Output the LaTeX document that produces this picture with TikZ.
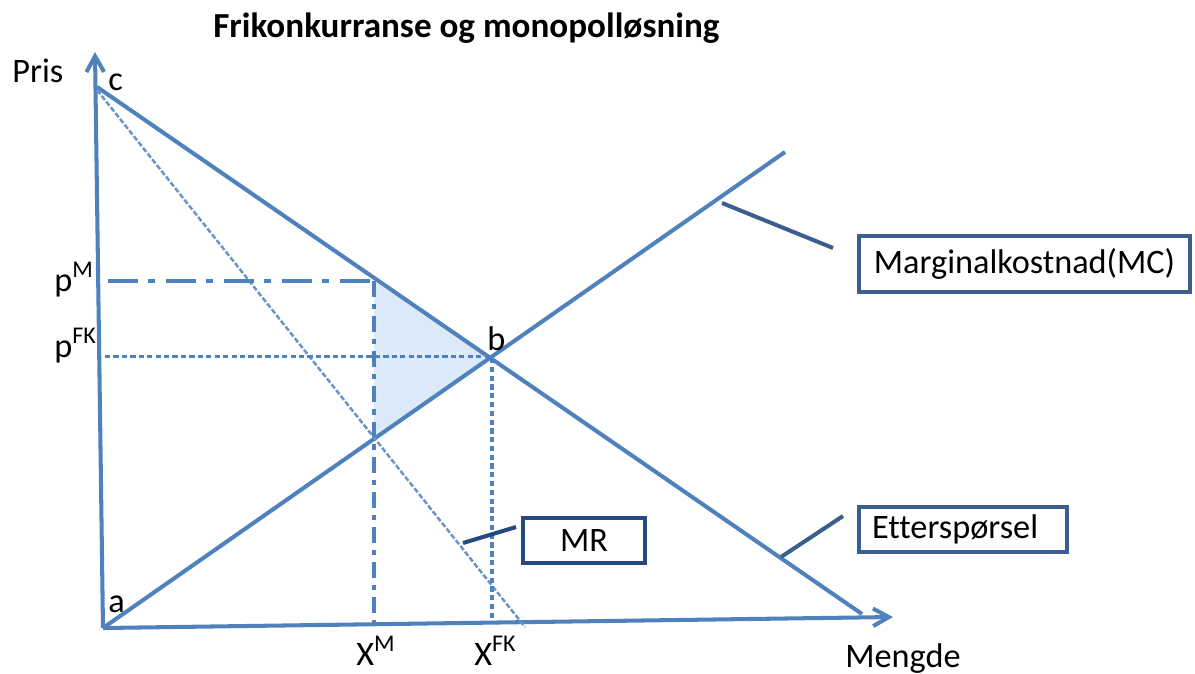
\documentclass[tikz,border=0pt]{standalone}
\usepackage{fontspec}
\setmainfont{Carlito}[Ligatures=NoCommon]
\usetikzlibrary{arrows.meta}
\definecolor{linjeblaa}{HTML}{4F81BD}
\definecolor{mork}{HTML}{3B5E8E}
\definecolor{navy}{HTML}{254A80}
\definecolor{skygge}{HTML}{DCE9F8}
\begin{document}
\begin{tikzpicture}[x=0.02cm,y=-0.02cm,
    kurve/.style={linjeblaa,line width=2.3pt},
    akse/.style={kurve,-{Straight Barb[length=9pt,width=10pt]}},
    merke/.style={font=\fontsize{19.5}{22}\selectfont,inner sep=0pt},
    boks/.style={draw=mork,line width=2.3pt,fill=white,
      font=\fontsize{19.5}{22}\selectfont,inner sep=0pt},
    pil/.style={mork,line width=2.3pt}]
    \useasboundingbox (0,0) rectangle (1195,673);

    % Points on the axes and curves
    \coordinate (a) at (103,628);
    \coordinate (ytopp) at (95,52);
    \coordinate (xslutt) at (893,617);
    \coordinate (c) at (97,87);
    \coordinate (dslutt) at (862,614);
    \coordinate (mcslutt) at (785,152);
    \coordinate (mrstart) at (97,90);
    \coordinate (mrslutt) at (525,627);
    \coordinate (b) at (492,358);
    \coordinate (pm) at (108,281);
    \coordinate (pmx) at (374,281);
    \coordinate (xm) at (374,622);
    \coordinate (mcxm) at (374,440);
    \coordinate (pfk) at (105,356);
    \coordinate (pfkx) at (492,356);
    \coordinate (xfk) at (492,620);

    % Shade the welfare loss
    \fill[skygge] (pmx) -- (b) -- (mcxm) -- cycle;

    % Draw the axes
    \draw[akse] (a) -- (ytopp);
    \draw[akse] (a) -- (xslutt);

    % Draw the curves
    \draw[kurve] (c) -- (dslutt);
    \draw[kurve] (a) -- (mcslutt);
    \draw[linjeblaa!85,line width=1.4pt,dash pattern=on 3pt off 1.2pt] (mrstart) -- (mrslutt);

    % Draw the price and quantity lines
    \draw[linjeblaa,line width=2.8pt,dash pattern=on 17pt off 6pt on 4pt off 6pt] (pm) -- (pmx);
    \draw[linjeblaa,line width=2.2pt,dash pattern=on 9pt off 4pt on 3pt off 4pt] (pmx) -- (xm);
    \draw[linjeblaa,line width=1.7pt,dash pattern=on 3pt off 1.8pt] (pfk) -- (pfkx);
    \draw[linjeblaa,line width=2.3pt,dash pattern=on 3pt off 2pt] (b) -- (xfk);

    % Label the axes and points
    \node[merke,anchor=base west] (pris) at (12,82) {Pris};
    \node[merke,anchor=base west] (mengde) at (845,667) {Mengde};
    \node[merke,anchor=base west] (cnavn) at (108,90) {c};
    \node[merke,anchor=base west] (anavn) at (108,612) {a};
    \node[merke,anchor=base west] (bnavn) at (487,350) {b};
    \node[merke,anchor=base west] (pmnavn) at (54,291) {p\textsuperscript{M}};
    \node[merke,anchor=base west] (pfknavn) at (54,357) {p\textsuperscript{FK}};
    \node[merke,anchor=base west] (xmnavn) at (356,665) {X\textsuperscript{M}};
    \node[merke,anchor=base west] (xfknavn) at (474,665) {X\textsuperscript{FK}};

    % Title
    \node[merke,font=\fontsize{20}{22}\selectfont\bfseries,anchor=base west] (tittel) at (213,37)
      {Frikonkurranse og monopolløsning};

    % Label the curves
    \node[boks,minimum width=6.62cm,minimum height=1.12cm] (mcboks) at (1024.5,264) {Marginalkostnad(MC)};
    \node[boks,minimum width=4.16cm,minimum height=0.9cm,text width=3.64cm,align=left] (dboks) at (963,529.5) {Etterspørsel};
    \node[boks,draw=navy,minimum width=2.44cm,minimum height=0.9cm] (mrboks) at (584,540.5) {MR};

    \coordinate (mcpil1) at (722,203);
    \coordinate (mcpil2) at (833,248);
    \coordinate (dpil1) at (781,557);
    \coordinate (dpil2) at (843,516);
    \coordinate (mrpil1) at (463,543);
    \coordinate (mrpil2) at (516,527);
    \draw[pil] (mcpil1) -- (mcpil2);
    \draw[pil] (dpil1) -- (dpil2);
    \draw[pil,navy] (mrpil1) -- (mrpil2);
  \end{tikzpicture}
\end{document}
